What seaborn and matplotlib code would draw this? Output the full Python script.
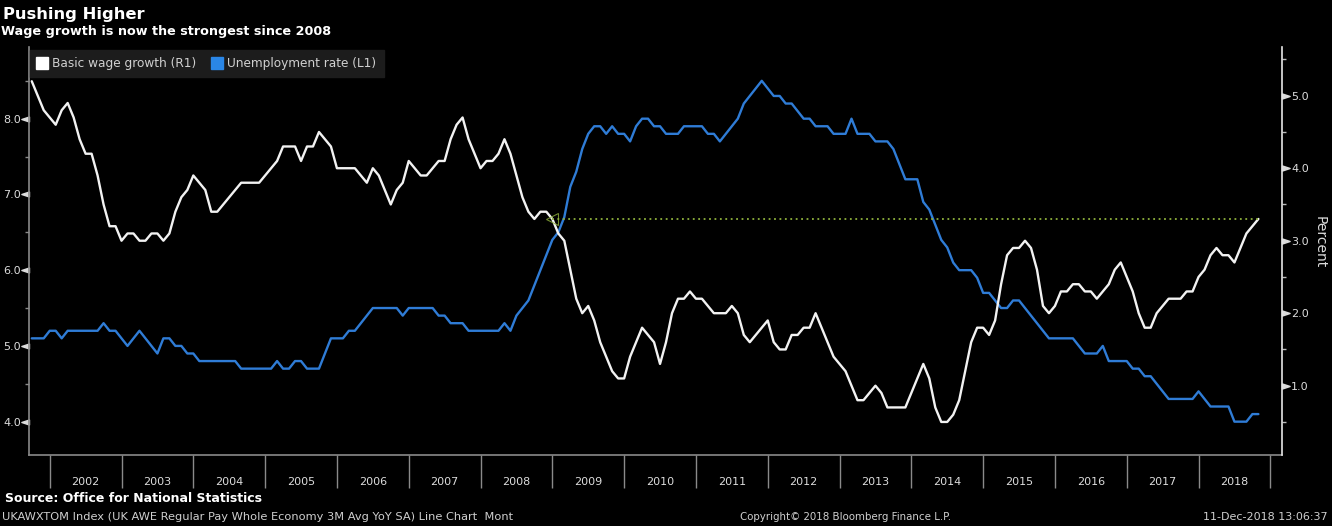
import numpy as np
import pandas as pd
import matplotlib
matplotlib.use("Agg")
import matplotlib.pyplot as plt
import seaborn as sns
from matplotlib.path import Path
from matplotlib.markers import MarkerStyle
from matplotlib.lines import Line2D
from matplotlib.ticker import FormatStrFormatter, MultipleLocator

# ---------------- data (monthly, 3M avg, Sep 2001 .. Oct 2018) ----------------
start_month = "2001-09"
wage_growth = [
    5.2, 5.0, 4.8, 4.7, 4.6, 4.8, 4.9, 4.7, 4.4, 4.2,
    4.2, 3.9, 3.5, 3.2, 3.2, 3.0, 3.1, 3.1, 3.0, 3.0,
    3.1, 3.1, 3.0, 3.1, 3.4, 3.6, 3.7, 3.9, 3.8, 3.7,
    3.4, 3.4, 3.5, 3.6, 3.7, 3.8, 3.8, 3.8, 3.8, 3.9,
    4.0, 4.1, 4.3, 4.3, 4.3, 4.1, 4.3, 4.3, 4.5, 4.4,
    4.3, 4.0, 4.0, 4.0, 4.0, 3.9, 3.8, 4.0, 3.9, 3.7,
    3.5, 3.7, 3.8, 4.1, 4.0, 3.9, 3.9, 4.0, 4.1, 4.1,
    4.4, 4.6, 4.7, 4.4, 4.2, 4.0, 4.1, 4.1, 4.2, 4.4,
    4.2, 3.9, 3.6, 3.4, 3.3, 3.4, 3.4, 3.3, 3.1, 3.0,
    2.6, 2.2, 2.0, 2.1, 1.9, 1.6, 1.4, 1.2, 1.1, 1.1,
    1.4, 1.6, 1.8, 1.7, 1.6, 1.3, 1.6, 2.0, 2.2, 2.2,
    2.3, 2.2, 2.2, 2.1, 2.0, 2.0, 2.0, 2.1, 2.0, 1.7,
    1.6, 1.7, 1.8, 1.9, 1.6, 1.5, 1.5, 1.7, 1.7, 1.8,
    1.8, 2.0, 1.8, 1.6, 1.4, 1.3, 1.2, 1.0, 0.8, 0.8,
    0.9, 1.0, 0.9, 0.7, 0.7, 0.7, 0.7, 0.9, 1.1, 1.3,
    1.1, 0.7, 0.5, 0.5, 0.6, 0.8, 1.2, 1.6, 1.8, 1.8,
    1.7, 1.9, 2.4, 2.8, 2.9, 2.9, 3.0, 2.9, 2.6, 2.1,
    2.0, 2.1, 2.3, 2.3, 2.4, 2.4, 2.3, 2.3, 2.2, 2.3,
    2.4, 2.6, 2.7, 2.5, 2.3, 2.0, 1.8, 1.8, 2.0, 2.1,
    2.2, 2.2, 2.2, 2.3, 2.3, 2.5, 2.6, 2.8, 2.9, 2.8,
    2.8, 2.7, 2.9, 3.1, 3.2, 3.3,
]
unemployment_rate = [
    5.1, 5.1, 5.1, 5.2, 5.2, 5.1, 5.2, 5.2, 5.2, 5.2,
    5.2, 5.2, 5.3, 5.2, 5.2, 5.1, 5.0, 5.1, 5.2, 5.1,
    5.0, 4.9, 5.1, 5.1, 5.0, 5.0, 4.9, 4.9, 4.8, 4.8,
    4.8, 4.8, 4.8, 4.8, 4.8, 4.7, 4.7, 4.7, 4.7, 4.7,
    4.7, 4.8, 4.7, 4.7, 4.8, 4.8, 4.7, 4.7, 4.7, 4.9,
    5.1, 5.1, 5.1, 5.2, 5.2, 5.3, 5.4, 5.5, 5.5, 5.5,
    5.5, 5.5, 5.4, 5.5, 5.5, 5.5, 5.5, 5.5, 5.4, 5.4,
    5.3, 5.3, 5.3, 5.2, 5.2, 5.2, 5.2, 5.2, 5.2, 5.3,
    5.2, 5.4, 5.5, 5.6, 5.8, 6.0, 6.2, 6.4, 6.5, 6.7,
    7.1, 7.3, 7.6, 7.8, 7.9, 7.9, 7.8, 7.9, 7.8, 7.8,
    7.7, 7.9, 8.0, 8.0, 7.9, 7.9, 7.8, 7.8, 7.8, 7.9,
    7.9, 7.9, 7.9, 7.8, 7.8, 7.7, 7.8, 7.9, 8.0, 8.2,
    8.3, 8.4, 8.5, 8.4, 8.3, 8.3, 8.2, 8.2, 8.1, 8.0,
    8.0, 7.9, 7.9, 7.9, 7.8, 7.8, 7.8, 8.0, 7.8, 7.8,
    7.8, 7.7, 7.7, 7.7, 7.6, 7.4, 7.2, 7.2, 7.2, 6.9,
    6.8, 6.6, 6.4, 6.3, 6.1, 6.0, 6.0, 6.0, 5.9, 5.7,
    5.7, 5.6, 5.5, 5.5, 5.6, 5.6, 5.5, 5.4, 5.3, 5.2,
    5.1, 5.1, 5.1, 5.1, 5.1, 5.0, 4.9, 4.9, 4.9, 5.0,
    4.8, 4.8, 4.8, 4.8, 4.7, 4.7, 4.6, 4.6, 4.5, 4.4,
    4.3, 4.3, 4.3, 4.3, 4.3, 4.4, 4.3, 4.2, 4.2, 4.2,
    4.2, 4.0, 4.0, 4.0, 4.1, 4.1,
]
year_labels = [str(y) for y in range(2002, 2019)]
left_ticks = [4.0, 5.0, 6.0, 7.0, 8.0]
right_ticks = [1.0, 2.0, 3.0, 4.0, 5.0]

periods = pd.period_range(start_month, periods=len(wage_growth), freq="M")
t = periods.year + periods.month / 12.0   # month-end as decimal year
df = pd.DataFrame({"t": t, "wage": wage_growth, "unemp": unemployment_rate})

# ---------------- style ----------------
sns.set_style("dark")
BG = "#000000"
WHITE = "#f2f2f2"
BLUE = "#2f7cd6"
GREEN = "#8fb23c"
GREY = "#8a8a8a"
TXT = "#dcdcdc"
plt.rcParams["font.family"] = ["DejaVu Sans"]

fig = plt.figure(figsize=(13.32, 5.26), dpi=100, facecolor=BG)
ax = fig.add_axes([0.0218, 0.135, 0.9407, 0.7756])
ax.set_facecolor(BG)
ax2 = ax.twinx()
ax2.patch.set_visible(False)

sns.lineplot(data=df, x="t", y="unemp", ax=ax, color=BLUE, lw=1.7, legend=False)
sns.lineplot(data=df, x="t", y="wage", ax=ax2, color=WHITE, lw=1.7, legend=False)

# dotted reference line at the latest wage value, back to when it was last that high
last = df["wage"].iloc[-1]
prev = df.iloc[:-1]
j = prev.index[prev["wage"] >= last].max()
ax2.hlines(last, df["t"].iloc[j], df["t"].iloc[-1], colors=GREEN, lw=1.3,
           linestyles=(0, (1, 2)), zorder=5)
ax2.plot([df["t"].iloc[j]], [last], marker="<", ms=8, mfc="none", mec=GREEN,
         mew=0.8, ls="none", alpha=0.8, zorder=5)

# ---------------- axes limits ----------------
ax.set_xlim(2001.712, 2019.163)
ax.set_ylim(3.56, 8.946)
ax2.set_ylim(0.044, 5.672)

# ---------------- spines ----------------
for s in ["top", "right"]:
    ax.spines[s].set_visible(False)
for s in ["left", "bottom"]:
    ax.spines[s].set_color(GREY)
    ax.spines[s].set_linewidth(1.2)
for s in ["top", "left", "bottom"]:
    ax2.spines[s].set_visible(False)
ax2.spines["right"].set_color("#e6e6e6")
ax2.spines["right"].set_linewidth(1.2)

# ---------------- y ticks ----------------
ax.set_ylabel("")
ax2.set_ylabel("")
ax.set_yticks(left_ticks)
ax.yaxis.set_major_formatter(FormatStrFormatter("%.1f"))
ax.yaxis.set_minor_locator(MultipleLocator(0.5))
ax.tick_params(axis="y", which="major", length=11, width=1, colors=TXT,
               labelsize=8, pad=-5, left=True)
ax.tick_params(axis="y", which="minor", length=3, width=1, color=GREY, left=True)

ax2.set_yticks(right_ticks)
ax2.yaxis.set_major_formatter(FormatStrFormatter("%.1f"))
ax2.yaxis.set_minor_locator(MultipleLocator(0.5))
ax2.tick_params(axis="y", which="major", length=11, width=1, colors=TXT,
                labelsize=8, pad=-4.5, right=True)
ax2.tick_params(axis="y", which="minor", length=3, width=1, color="#bbbbbb", right=True)

left_tri = MarkerStyle(Path([(0, 0.33), (0, -0.33), (-1, 0), (0, 0.33)],
                            [Path.MOVETO, Path.LINETO, Path.LINETO, Path.CLOSEPOLY]))
right_tri = MarkerStyle(Path([(0, 0.33), (0, -0.33), (1, 0), (0, 0.33)],
                             [Path.MOVETO, Path.LINETO, Path.LINETO, Path.CLOSEPOLY]))
for tk in ax.yaxis.get_major_ticks():
    tk.tick1line.set_marker(left_tri)
for tk in ax2.yaxis.get_major_ticks():
    tk.tick2line.set_marker(right_tri)

# ---------------- x axis: year bands ----------------
ax.set_xlabel("")
ax.set_xticks([y + 0.5 for y in range(2002, 2019)])
ax.set_xticklabels(year_labels)
ax.set_xticks(list(range(2002, 2020)), minor=True)
ax.tick_params(axis="x", which="major", length=0, pad=16, labelsize=8, colors=TXT)
ax.tick_params(axis="x", which="minor", length=24, width=1, color=GREY, direction="out",
               bottom=True)
ax2.tick_params(axis="x", which="both", length=0)

ax.grid(False)
ax2.grid(False)

# ---------------- legend ----------------
handles = [Line2D([], [], marker="s", ls="none", ms=9, mfc="#ffffff", mec="#ffffff"),
           Line2D([], [], marker="s", ls="none", ms=9, mfc="#2a86e6", mec="#2a86e6")]
leg = ax.legend(handles, ["Basic wage growth (R1)", "Unemployment rate (L1)"],
                loc="upper left", bbox_to_anchor=(0.0008, 0.993), ncol=2,
                frameon=True, fancybox=False, fontsize=8.7, handlelength=0.8,
                handletextpad=0.45, columnspacing=1.3, borderpad=0.6,
                borderaxespad=0.0)
leg.get_frame().set_facecolor("#1c1c1c")
leg.get_frame().set_edgecolor("#1c1c1c")
leg.get_frame().set_alpha(1)
for txt in leg.get_texts():
    txt.set_color("#d0d0d0")
leg.set_zorder(10)

# ---------------- texts ----------------
fig.text(3 / 1332, 1 - 14 / 526, "Pushing Higher", color="white", fontsize=11.8,
         fontweight="bold", va="center", ha="left")
fig.text(1 / 1332, 1 - 32 / 526, "Wage growth is now the strongest since 2008",
         color="white", fontsize=9.2, fontweight="bold", va="center", ha="left")
fig.text(1320 / 1332, 1 - 242 / 526, "Percent", color=TXT, fontsize=10,
         rotation=270, va="center", ha="center")
fig.text(5 / 1332, 1 - 498 / 526, "Source: Office for National Statistics",
         color="white", fontsize=9, fontweight="bold", va="center", ha="left")
fig.text(2 / 1332, 1 - 517 / 526,
         "UKAWXTOM Index (UK AWE Regular Pay Whole Economy 3M Avg YoY SA) Line Chart  Mont",
         color="#cfcfcf", fontsize=8.2, va="center", ha="left")
fig.text(740 / 1332, 1 - 517 / 526, "Copyright\u00a9 2018 Bloomberg Finance L.P.",
         color="#cfcfcf", fontsize=7.4, va="center", ha="left")
fig.text(1328 / 1332, 1 - 517 / 526, "11-Dec-2018 13:06:37",
         color="#cfcfcf", fontsize=8, va="center", ha="right")

fig.savefig("out.png", dpi=100, facecolor=BG)
